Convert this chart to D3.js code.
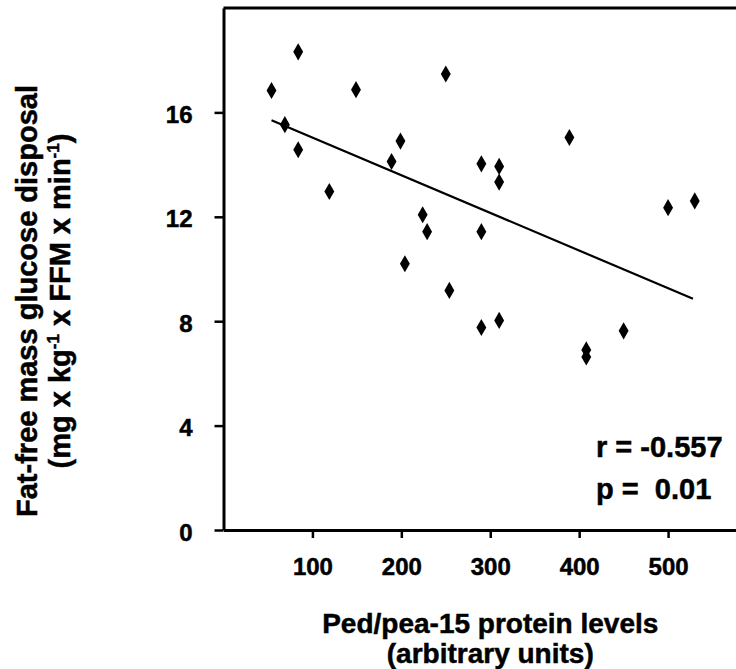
<!DOCTYPE html>
<html>
<head>
<meta charset="utf-8">
<script src="https://cdn.jsdelivr.net/npm/d3@7"></script>
<style>
  body { margin: 0; background: #fff; }
  svg text { font-family: "Liberation Sans", Arial, Helvetica, sans-serif; font-weight: bold; fill: #000; stroke: #000; stroke-width: 0.5px; }
</style>
</head>
<body>
<div id="chart"></div>
<script>
// values
const proteinLevels = [54, 69, 84, 84, 119, 149, 189, 199, 204, 224, 229, 250, 254,
  290, 290, 290, 310, 310, 310, 389, 408, 408, 450, 500, 530];
const glucoseDisposal = [16.84, 15.53, 18.32, 14.57, 12.97, 16.87, 14.12, 14.9, 10.2, 12.08, 11.43, 17.47, 9.18,
  14.03, 11.43, 7.76, 13.93, 13.33, 8.03, 15.04, 6.9, 6.63, 7.63, 12.35, 12.61];
const trendX = [54, 528];
const trendY = [15.7, 8.86];
const xTicks = [100, 200, 300, 400, 500];
const yTicks = [0, 4, 8, 12, 16];

class ScatterChart {
  constructor(_config) {
    this.config = {
      parentElement: _config.parentElement,
      containerWidth: 736,
      containerHeight: 669,
      margin: { top: 8, left: 223.5, bottom: 139 },
      plotWidth: 533.5,
    };
    this.initVis();
  }

  initVis() {
    let vis = this;
    vis.height = vis.config.containerHeight - vis.config.margin.top - vis.config.margin.bottom;
    vis.width = vis.config.plotWidth;

    vis.svg = d3.select(vis.config.parentElement).append("svg")
      .attr("width", vis.config.containerWidth)
      .attr("height", vis.config.containerHeight);

    vis.chart = vis.svg.append("g")
      .attr("transform", `translate(${vis.config.margin.left},${vis.config.margin.top})`);

    vis.xScale = d3.scaleLinear().domain([0, 600]).range([0, vis.width]);
    vis.yScale = d3.scaleLinear().domain([0, 20]).range([vis.height, 0]);

    vis.xAxis = d3.axisBottom(vis.xScale).tickValues(xTicks)
      .tickSizeInner(8).tickSizeOuter(0).tickPadding(20).tickFormat(d3.format("d"));
    vis.yAxis = d3.axisLeft(vis.yScale).tickValues(yTicks)
      .tickSizeInner(9).tickSizeOuter(0).tickPadding(22).tickFormat(d3.format("d"));

    vis.renderVis();
  }

  renderVis() {
    let vis = this;

    // top frame line
    vis.chart.append("line")
      .attr("x1", 0).attr("x2", vis.width)
      .attr("y1", 0).attr("y2", 0)
      .attr("stroke", "#000").attr("stroke-width", 3);

    const xg = vis.chart.append("g")
      .attr("transform", `translate(0,${vis.height})`)
      .call(vis.xAxis);
    const yg = vis.chart.append("g").call(vis.yAxis);

    [xg, yg].forEach(g => {
      g.attr("font-family", null);
      g.select(".domain").attr("stroke-width", 3);
      g.selectAll(".tick line").attr("stroke-width", 2.5);
      g.selectAll(".tick text").attr("font-size", 24);
    });
    yg.selectAll(".tick text").attr("dy", "0.42em");

    // regression line
    const line = d3.line()
      .x(d => vis.xScale(d[0]))
      .y(d => vis.yScale(d[1]));
    vis.chart.append("path")
      .datum(d3.zip(trendX, trendY))
      .attr("d", line)
      .attr("fill", "none")
      .attr("stroke", "#000")
      .attr("stroke-width", 2.2);

    // points
    const diamond = d3.symbol().type(d3.symbolDiamond).size(85);
    vis.chart.selectAll(".pt")
      .data(d3.zip(proteinLevels, glucoseDisposal))
      .join("path")
      .attr("class", "pt")
      .attr("d", diamond)
      .attr("transform", d => `translate(${vis.xScale(d[0])},${vis.yScale(d[1])})`)
      .attr("fill", "#000");

    // stats
    vis.svg.append("text")
      .attr("x", 596).attr("y", 457)
      .attr("font-size", 29)
      .text("r = -0.557");
    vis.svg.append("text")
      .attr("x", 596).attr("y", 499)
      .attr("font-size", 29)
      .attr("xml:space", "preserve")
      .style("white-space", "pre")
      .text("p =  0.01");

    // x title
    const cx = vis.config.margin.left + vis.width / 2;
    vis.svg.append("text")
      .attr("x", cx).attr("y", 633)
      .attr("text-anchor", "middle").attr("font-size", 28)
      .text("Ped/pea-15 protein levels");
    vis.svg.append("text")
      .attr("x", cx).attr("y", 663)
      .attr("text-anchor", "middle").attr("font-size", 28)
      .text("(arbitrary units)");

    // y title
    const ty = vis.svg.append("g")
      .attr("transform", "translate(0,301) rotate(-90)");
    ty.append("text")
      .attr("x", 0).attr("y", 37)
      .attr("text-anchor", "middle").attr("font-size", 29)
      .text("Fat-free mass glucose disposal");
    const t2 = ty.append("text")
      .attr("x", 0).attr("y", 70)
      .attr("text-anchor", "middle").attr("font-size", 29);
    t2.append("tspan").text("(mg x kg");
    t2.append("tspan").attr("font-size", 17).attr("dy", -11).text("-1");
    t2.append("tspan").attr("dy", 11).text(" x FFM x min");
    t2.append("tspan").attr("font-size", 17).attr("dy", -11).text("-1");
    t2.append("tspan").attr("dy", 11).text(")");
  }
}

new ScatterChart({ parentElement: "#chart" });
</script>
</body>
</html>
